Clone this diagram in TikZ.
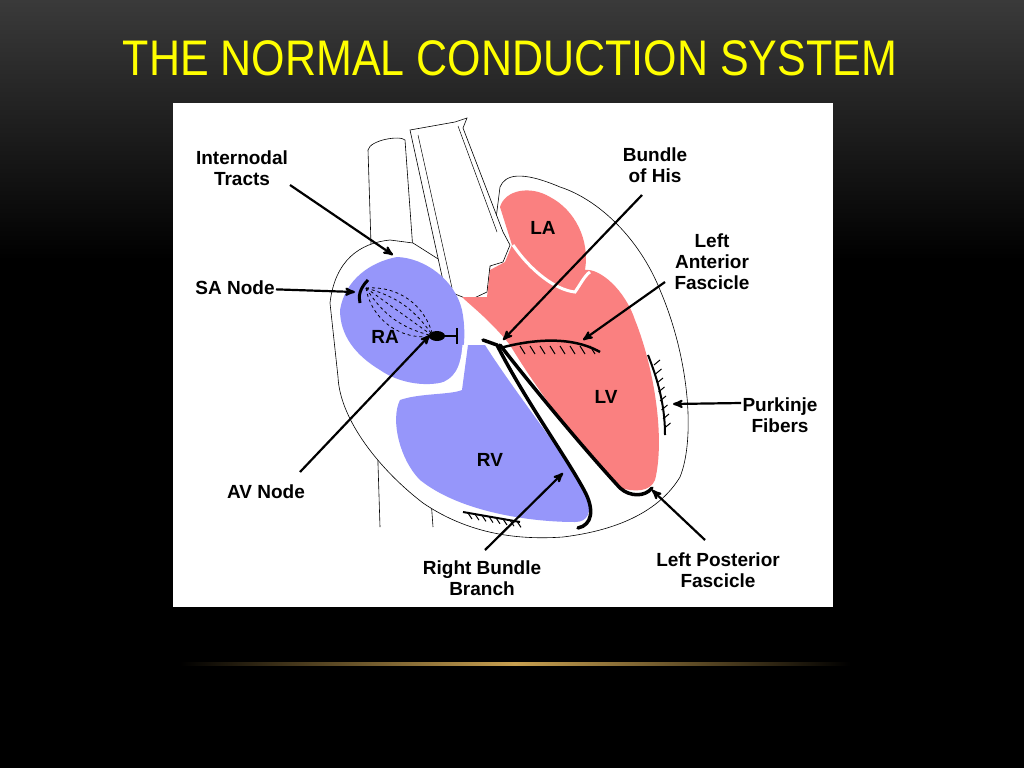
\documentclass[tikz,border=0pt]{standalone}
\usepackage{fontspec}
\setmainfont{Liberation Sans}
\usetikzlibrary{arrows}
\definecolor{raBlue}{RGB}{150,150,250}
\definecolor{lvRed}{RGB}{250,128,128}
\definecolor{titleYel}{RGB}{255,255,0}
\definecolor{topGray}{RGB}{58,58,58}
\definecolor{goldLine}{RGB}{200,160,80}

\begin{document}
\begin{tikzpicture}[x=1pt,y=-1pt,>=stealth',thick,
  lbl/.style={font=\fontsize{19}{21}\selectfont\bfseries,align=center,inner sep=1pt},
  ptr/.style={->,line width=2.2pt},
  stick/.style={line width=2.2pt},
  outline/.style={draw=black,line width=0.6pt},
  fiber/.style={line width=3.5pt,line cap=round,line join=round},
  hatch/.style={line width=1pt}]

  % background
  \fill[black] (0,0) rectangle (1024,768);
  \shade[top color=topGray,bottom color=black] (0,0) rectangle (1024,260);
  \shade[left color=black,right color=black,middle color=goldLine] (180,662) rectangle (850,665);
  \useasboundingbox (0,0) rectangle (1024,768);

  \node[text=titleYel,font=\fontsize{50}{54}\selectfont,xscale=0.86] (title) at (510,58) {THE NORMAL CONDUCTION SYSTEM};

  \fill[white] (173,103) rectangle (833,607);

  % vena cava and aorta
  \draw[outline,fill=white] (380,527) -- (368,150) .. controls (370,140) and (400,135) .. (405,140) -- (433,527);
  \draw[outline,fill=white] (330,303) .. controls (335,260) and (360,243) .. (390,240)
     -- (413,243) -- (487,290) -- (500,187) .. controls (505,175) and (520,170) .. (560,187)
     .. controls (600,200) and (640,240) .. (660,290)
     .. controls (690,360) and (695,440) .. (680,477)
     .. controls (660,510) and (620,530) .. (563,537)
     .. controls (520,540) and (470,535) .. (423,503)
     .. controls (380,470) and (340,420) .. (338,377) -- cycle;
  \draw[outline,fill=white] (410,130) -- (455,122) -- (467,118) -- (463,128)
     -- (503,232) -- (510,245) -- (503,262) -- (490,266) -- (487,292)
     -- (470,300) -- (445,290) -- cycle;
  \draw[line width=0.5pt] (418,135) -- (452,288);
  \draw[line width=0.5pt] (458,126) -- (497,232);

  % chambers
  \fill[raBlue] (340,310) .. controls (345,280) and (370,262) .. (397,257)
     .. controls (425,258) and (455,280) .. (462,310)
     .. controls (468,340) and (462,370) .. (450,380)
     .. controls (430,388) and (400,384) .. (380,370)
     .. controls (355,355) and (340,335) .. cycle;
  \fill[raBlue] (400,400) .. controls (420,393) and (450,395) .. (462,390)
     -- (468,345) -- (485,345)
     .. controls (520,400) and (570,460) .. (587,497)
     .. controls (592,512) and (588,522) .. (575,522)
     .. controls (530,522) and (460,512) .. (420,480)
     .. controls (400,460) and (390,420) .. cycle;
  \fill[lvRed] (500,207) .. controls (505,190) and (530,185) .. (550,197)
     .. controls (575,210) and (590,240) .. (585,270)
     .. controls (600,268) and (625,290) .. (635,320)
     .. controls (655,370) and (665,440) .. (655,480)
     .. controls (650,492) and (635,492) .. (620,488)
     .. controls (590,460) and (540,395) .. (510,345)
     .. controls (490,320) and (470,305) .. (462,297)
     -- (487,297) -- (490,270) -- (505,262) -- (512,245) -- cycle;
  \draw[white,line width=3pt] (513,245) .. controls (530,270) and (555,290) .. (575,292)
     .. controls (580,285) and (585,275) .. (590,272);
  \draw[white,line width=3pt] (440,385) .. controls (455,380) and (462,370) .. (464,345);

  % conduction fibers
  \draw[fiber] (483,340) -- (497,345) .. controls (525,400) and (565,455) .. (584,490)
     .. controls (595,510) and (592,525) .. (578,528);
  \draw[fiber] (500,345) .. controls (535,390) and (585,450) .. (620,488)
     .. controls (630,497) and (645,497) .. (652,488);
  \draw[line width=2.5pt] (500,348) .. controls (530,340) and (570,335) .. (600,352);
  \foreach \t in {0,...,7}
    \draw[hatch] (520+10*\t,346) -- +(5,8);
  \draw[line width=2pt] (648,355) .. controls (660,385) and (665,410) .. (665,435);
  \foreach \t in {0,...,7}
    \draw[hatch] (654+1.5*\t,365+9*\t) -- +(6,-5);
  \draw[line width=2pt] (463,512) -- (520,522);
  \foreach \t in {0,...,7}
    \draw[hatch] (468+7*\t,513+1.2*\t) -- +(4,6);

  % SA node, tracts, AV node
  \draw[line width=3pt] (368,280) .. controls (360,288) and (358,296) .. (360,303);
  \foreach \b in {-45,-22,0,20,40}
    \draw[dashed,line width=0.8pt] (366,288) to[bend left=\b] (433,336);
  \fill (437,336) ellipse (8 and 5);
  \draw[line width=1.5pt] (437,336) -- (457,336) (457,328) -- (457,344);

  % labels
  \node[lbl] (tracts) at (242,168) {Internodal\\Tracts};
  \node[lbl] (sa)     at (235,288) {SA Node};
  \node[lbl] (av)     at (266,492) {AV Node};
  \node[lbl] (his)    at (655,165) {Bundle\\of His};
  \node[lbl] (laf)    at (712,262) {Left\\Anterior\\Fascicle};
  \node[lbl] (purk)   at (780,415) {Purkinje\\Fibers};
  \node[lbl] (lpf)    at (718,570) {Left Posterior\\Fascicle};
  \node[lbl] (rbb)    at (482,578) {Right Bundle\\Branch};
  \node[lbl] (ra) at (385,337) {RA};
  \node[lbl] (rv) at (490,460) {RV};
  \node[lbl] (la) at (543,228) {LA};
  \node[lbl] (lv) at (606,397) {LV};

  \coordinate (tractsEnd) at (393,255);
  \coordinate (saEnd) at (355,292);
  \coordinate (avEnd) at (430,335);
  \coordinate (hisEnd) at (503,340);
  \coordinate (lafEnd) at (583,340);
  \coordinate (purkEnd) at (673,404);
  \coordinate (lpfEnd) at (652,490);
  \coordinate (rbbEnd) at (563,473);

  \draw[ptr] (290,185) -- (tractsEnd);
  \draw[ptr] (sa) -- (saEnd);
  \draw[ptr] (300,472) -- (avEnd);
  \draw[ptr] (642,195) -- (hisEnd);
  \draw[ptr] (665,282) -- (lafEnd);
  \draw[ptr] (purk.west) ++(0,-12) -- (purkEnd);
  \draw[ptr] (705,540) -- (lpfEnd);
  \draw[ptr] (485,550) -- (rbbEnd);
\end{tikzpicture}
\end{document}
